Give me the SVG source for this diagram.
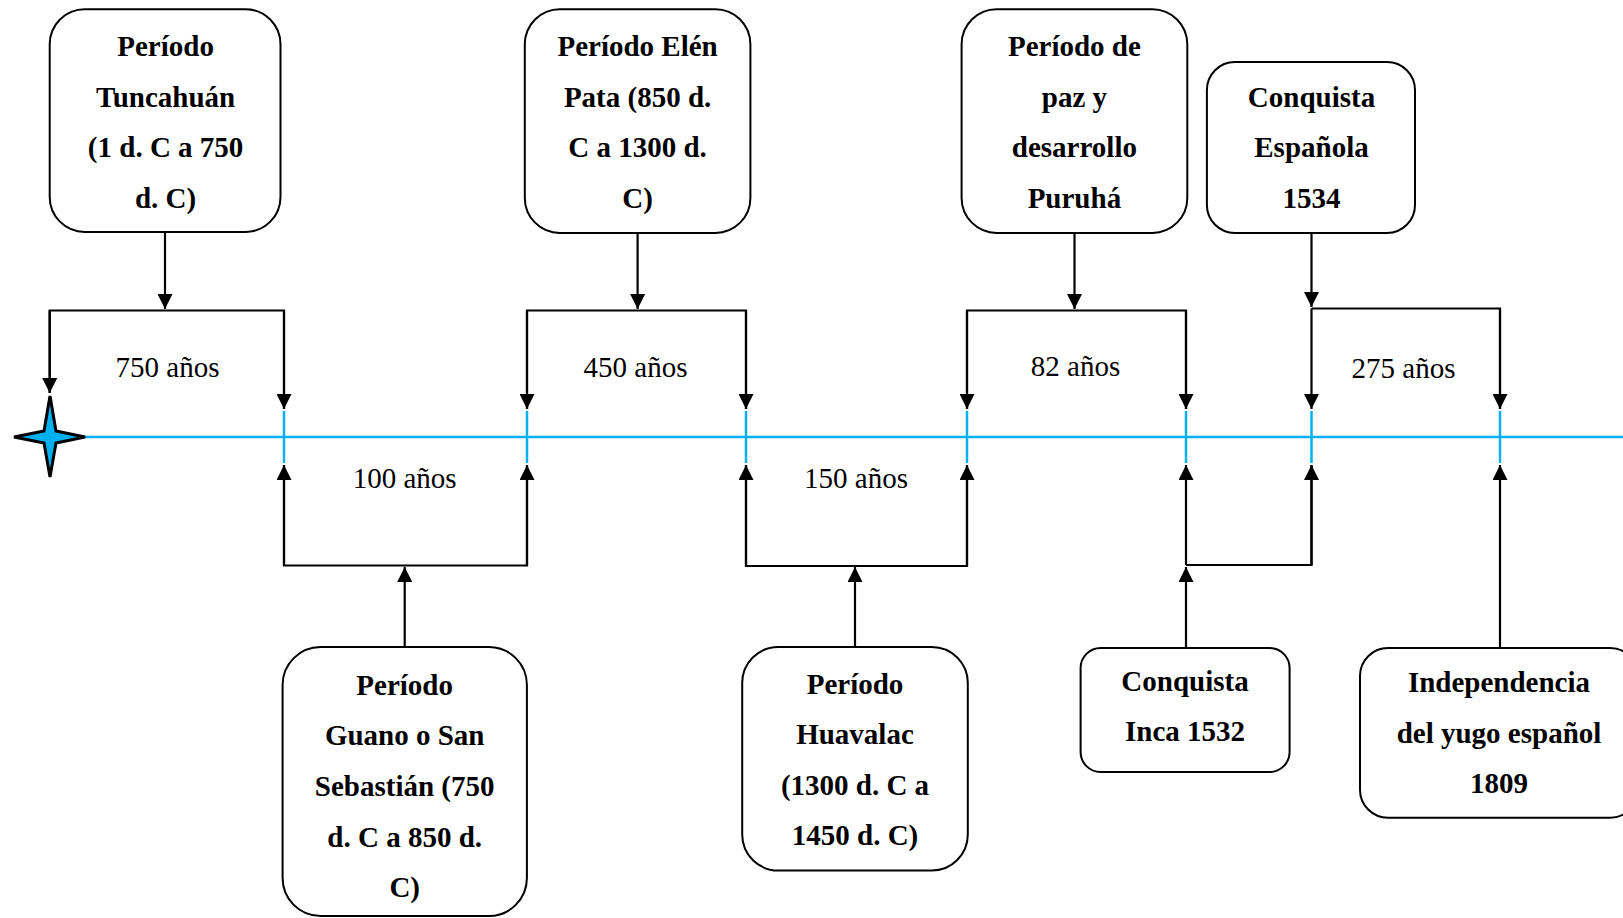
<svg xmlns="http://www.w3.org/2000/svg" width="1623" height="918" viewBox="0 0 1623 918">
<style>
.box{fill:#fff;stroke:#000;stroke-width:2}
.bt{font-family:"Liberation Serif","Times New Roman",serif;font-weight:bold;font-size:29px;text-anchor:middle;fill:#000}
.lb{font-family:"Liberation Serif","Times New Roman",serif;font-size:29px;text-anchor:middle;fill:#000}
.cn{fill:none;stroke:#000;stroke-width:2.2}
.ar{fill:none;stroke:#000;stroke-width:2.2;marker-end:url(#ah)}
.tk{stroke:#00B0F0;stroke-width:2.5}
</style>
<defs>
<marker id="ah" markerUnits="userSpaceOnUse" markerWidth="15" markerHeight="15" viewBox="0 0 15 15" refX="15" refY="7.5" orient="auto">
<path d="M0,0 L15,7.5 L0,15 z" fill="#000"/>
</marker>
</defs>
<rect width="1623" height="918" fill="#fff"/>
<g id="timeline">
<line x1="50" y1="437" x2="1623" y2="437" class="tk"/>
<line x1="284" y1="411" x2="284" y2="463" class="tk"/>
<line x1="527" y1="411" x2="527" y2="463" class="tk"/>
<line x1="746" y1="411" x2="746" y2="463" class="tk"/>
<line x1="967" y1="411" x2="967" y2="463" class="tk"/>
<line x1="1186" y1="411" x2="1186" y2="463" class="tk"/>
<line x1="1311.5" y1="411" x2="1311.5" y2="463" class="tk"/>
<line x1="1500" y1="411" x2="1500" y2="463" class="tk"/>
<path id="star" d="M50,396 L56,431 L85,437 L56,443 L50,477 L44,443 L14,437 L44,431 Z" fill="#00B0F0" stroke="#000" stroke-width="3" stroke-linejoin="miter"/>
</g>
<g id="connectors">
<line x1="165" y1="232" x2="165" y2="309" class="ar"/>
<polyline points="49.7,393 49.7,310.5 284,310.5 284,409" class="cn"/>
<line x1="49.7" y1="310.5" x2="49.7" y2="393" class="ar"/>
<line x1="284" y1="310.5" x2="284" y2="409" class="ar"/>
<line x1="637.6" y1="233" x2="637.6" y2="309" class="ar"/>
<polyline points="527,409 527,310.5 746,310.5 746,409" class="cn"/>
<line x1="527" y1="310.5" x2="527" y2="409" class="ar"/>
<line x1="746" y1="310.5" x2="746" y2="409" class="ar"/>
<line x1="1074.5" y1="233" x2="1074.5" y2="309" class="ar"/>
<polyline points="967,409 967,310.5 1186,310.5 1186,409" class="cn"/>
<line x1="967" y1="310.5" x2="967" y2="409" class="ar"/>
<line x1="1186" y1="310.5" x2="1186" y2="409" class="ar"/>
<line x1="1311.5" y1="233" x2="1311.5" y2="307" class="ar"/>
<polyline points="1311.5,308.5 1500,308.5 1500,409" class="cn"/>
<line x1="1311.5" y1="308.5" x2="1311.5" y2="409" class="ar"/>
<line x1="1500" y1="308.5" x2="1500" y2="409" class="ar"/>
<line x1="404.7" y1="647" x2="404.7" y2="567" class="ar"/>
<polyline points="284,465 284,565.5 527,565.5 527,465" class="cn"/>
<line x1="284" y1="565.5" x2="284" y2="465" class="ar"/>
<line x1="527" y1="565.5" x2="527" y2="465" class="ar"/>
<line x1="855" y1="647" x2="855" y2="567" class="ar"/>
<polyline points="746,465 746,566 967,566 967,465" class="cn"/>
<line x1="746" y1="566" x2="746" y2="465" class="ar"/>
<line x1="967" y1="566" x2="967" y2="465" class="ar"/>
<line x1="1186" y1="648" x2="1186" y2="567" class="ar"/>
<polyline points="1186,565 1311.5,565 1311.5,465" class="cn"/>
<line x1="1186" y1="565" x2="1186" y2="465" class="ar"/>
<line x1="1311.5" y1="565" x2="1311.5" y2="465" class="ar"/>
<line x1="1500" y1="648" x2="1500" y2="465" class="ar"/>
</g>
<g id="labels">
<text x="167.5" y="377" class="lb">750 años</text>
<text x="635.5" y="377" class="lb">450 años</text>
<text x="1075.5" y="376" class="lb">82 años</text>
<text x="1403.5" y="378" class="lb">275 años</text>
<text x="404.7" y="488" class="lb">100 años</text>
<text x="856" y="488" class="lb">150 años</text>
</g>
<g id="n1">
<rect x="49.7" y="9.3" width="230.8" height="222.6" rx="35" class="box"/>
<text class="bt"><tspan x="165.6" y="56">Período</tspan><tspan x="165.6" y="106.5">Tuncahuán</tspan><tspan x="165.6" y="157">(1 d. C a 750</tspan><tspan x="165.6" y="207.5">d. C)</tspan></text>
</g>
<g id="n2">
<rect x="524.8" y="9.3" width="225.6" height="223.6" rx="35" class="box"/>
<text class="bt"><tspan x="637.6" y="56">Período Elén</tspan><tspan x="637.6" y="106.5">Pata (850 d.</tspan><tspan x="637.6" y="157">C a 1300 d.</tspan><tspan x="637.6" y="207.5">C)</tspan></text>
</g>
<g id="n3">
<rect x="961.6" y="9.3" width="225.7" height="223.6" rx="35" class="box"/>
<text class="bt"><tspan x="1074.4" y="56">Período de</tspan><tspan x="1074.4" y="106.5">paz y</tspan><tspan x="1074.4" y="157">desarrollo</tspan><tspan x="1074.4" y="207.5">Puruhá</tspan></text>
</g>
<g id="n4">
<rect x="1206.9" y="62.1" width="208.1" height="170.8" rx="28" class="box"/>
<text class="bt"><tspan x="1311.5" y="106.5">Conquista</tspan><tspan x="1311.5" y="157">Española</tspan><tspan x="1311.5" y="207.5">1534</tspan></text>
</g>
<g id="n5">
<rect x="282.6" y="647" width="244.3" height="269" rx="38" class="box"/>
<text class="bt"><tspan x="404.7" y="694.5">Período</tspan><tspan x="404.7" y="745">Guano o San</tspan><tspan x="404.7" y="796">Sebastián (750</tspan><tspan x="404.7" y="846.5">d. C a 850 d.</tspan><tspan x="404.7" y="896.5">C)</tspan></text>
</g>
<g id="n6">
<rect x="742.2" y="647" width="225.6" height="223.5" rx="36" class="box"/>
<text class="bt"><tspan x="855" y="693.5">Período</tspan><tspan x="855" y="744">Huavalac</tspan><tspan x="855" y="794.5">(1300 d. C a</tspan><tspan x="855" y="845">1450 d. C)</tspan></text>
</g>
<g id="n7">
<rect x="1080.6" y="648" width="209" height="124" rx="20" class="box"/>
<text class="bt"><tspan x="1185" y="691">Conquista</tspan><tspan x="1185" y="740.5">Inca 1532</tspan></text>
</g>
<g id="n8">
<rect x="1360" y="648" width="278" height="169.7" rx="28" class="box"/>
<text class="bt"><tspan x="1499" y="692">Independencia</tspan><tspan x="1499" y="743">del yugo español</tspan><tspan x="1499" y="793">1809</tspan></text>
</g>
</svg>
